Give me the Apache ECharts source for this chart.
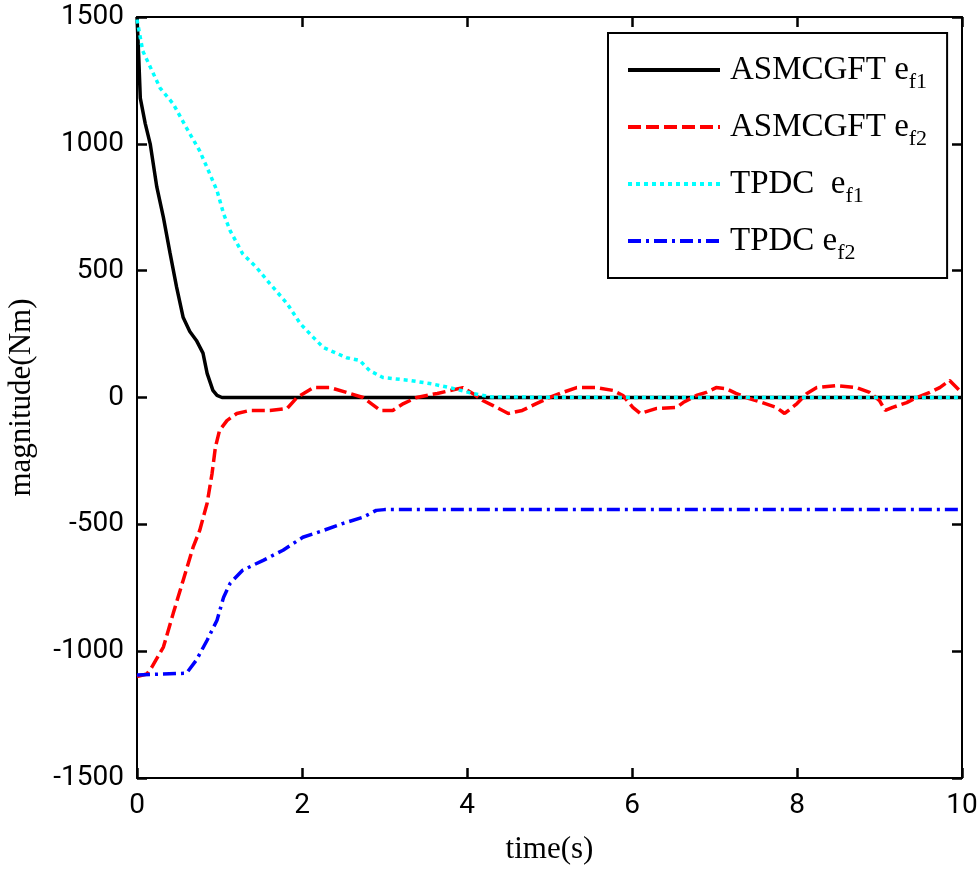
<!DOCTYPE html>
<html>
<head>
<meta charset="utf-8">
<script src="https://cdn.jsdelivr.net/npm/echarts@6/dist/echarts.min.js"></script>
<style>
html,body{margin:0;padding:0;background:#fff;}
#chart{width:980px;height:876px;}
</style>
</head>
<body>
<div id="chart"></div>
<script>
// ---- data (time s, magnitude Nm) ----
const xTicks = [0, 2, 4, 6, 8, 10];
const yTicks = [-1500, -1000, -500, 0, 500, 1000, 1500];

const asmcgftEf1 = [
  [0,1500],[0.02,1350],[0.04,1180],[0.1,1080],[0.16,1000],[0.24,830],[0.32,710],
  [0.40,570],[0.48,435],[0.56,315],[0.64,260],[0.72,225],[0.80,175],[0.85,95],
  [0.92,28],[0.97,8],[1.03,0],[2,0],[4,0],[6,0],[8,0],[10,0]
];

const asmcgftEf2 = [
  [0,-1100],[0.12,-1090],[0.18,-1063],[0.32,-984],[0.44,-850],[0.56,-720],
  [0.68,-590],[0.76,-524],[0.85,-417],[0.91,-299],[0.95,-197],[1.0,-130],
  [1.09,-91],[1.21,-63],[1.37,-51],[1.61,-51],[1.82,-43],[1.94,0],[2.14,39],
  [2.34,39],[2.54,20],[2.74,0],[2.95,-51],[3.1,-51],[3.23,-24],[3.39,0],
  [3.64,16],[3.95,39],[4.07,16],[4.19,-12],[4.31,-31],[4.5,-63],[4.67,-51],
  [4.84,-24],[5.0,0],[5.16,20],[5.33,39],[5.57,39],[5.77,28],[5.89,8],
  [6.01,-39],[6.1,-63],[6.3,-43],[6.54,-39],[6.62,-20],[6.78,8],[6.9,20],
  [7.02,39],[7.14,35],[7.26,16],[7.42,-4],[7.58,-20],[7.75,-39],[7.85,-63],
  [8.0,-24],[8.12,16],[8.24,39],[8.48,47],[8.72,39],[8.88,20],[9.0,-12],
  [9.07,-51],[9.16,-39],[9.33,-20],[9.45,0],[9.61,20],[9.73,39],[9.85,67],
  [9.97,28],[10,20]
];

const tpdcEf1 = [
  [0,1490],[0.07,1366],[0.28,1220],[0.44,1157],[0.6,1063],[0.76,972],
  [0.85,906],[0.97,815],[1.05,724],[1.13,657],[1.28,567],[1.45,512],
  [1.61,449],[1.82,370],[1.98,291],[2.14,236],[2.26,197],[2.54,157],
  [2.70,146],[2.82,106],[2.98,79],[3.31,67],[3.55,55],[3.79,39],[4.07,16],
  [4.3,2],[6,0],[8,0],[10,0]
];

const tpdcEf2 = [
  [0,-1094],[0.6,-1087],[0.72,-1035],[0.85,-957],[0.97,-878],[1.05,-787],
  [1.13,-732],[1.28,-681],[1.53,-642],[1.77,-602],[2.01,-551],[2.26,-524],
  [2.5,-496],[2.74,-472],[2.9,-445],[3.0,-442],[4,-442],[6,-442],[8,-442],[10,-442]
];

const seriesNames = ['ASMCGFT ef1', 'ASMCGFT ef2', 'TPDC  ef1', 'TPDC ef2'];
const legendLabels = {
  'ASMCGFT ef1': '{m|ASMCGFT e}{s|f1}',
  'ASMCGFT ef2': '{m|ASMCGFT e}{s|f2}',
  'TPDC  ef1': '{m|TPDC  e}{s|f1}',
  'TPDC ef2': '{m|TPDC e}{s|f2}'
};

const serif = '"Liberation Serif","Times New Roman",serif';
const tickFont = 'Roboto,"Noto Sans",sans-serif';

const chart = echarts.init(document.getElementById('chart'));

function mkLine() { return {show: true, onZero: false, lineStyle: {color: '#000', width: 2}}; }
function mkTick() { return {show: true, inside: true, length: 10, lineStyle: {color: '#000', width: 2.5}}; }

chart.setOption({
  animation: false,
  grid: {left: 137, right: 18, top: 17, bottom: 98, outerBoundsMode: 'none'},
  legend: {
    data: seriesNames,
    orient: 'vertical',
    left: 608,
    top: 33,
    itemWidth: 92,
    itemHeight: 14,
    itemGap: 11,
    padding: [14, 20, 14, 18],
    borderColor: '#000',
    borderWidth: 2,
    backgroundColor: '#fff',
    itemStyle: {opacity: 0},
    lineStyle: {width: 4},
    formatter: function (name) { return legendLabels[name]; },
    textStyle: {
      color: '#000',
      padding: [0, 0, 0, 5],
      rich: {
        m: {fontFamily: serif, fontSize: 33, lineHeight: 32, color: '#000'},
        s: {fontFamily: serif, fontSize: 22, lineHeight: 22, color: '#000', padding: [24, 0, 0, 0]}
      }
    }
  },
  xAxis: [{
    type: 'value', min: 0, max: 10, interval: 2,
    name: 'time(s)', nameLocation: 'middle', nameGap: 56,
    nameTextStyle: {fontFamily: serif, fontSize: 31, color: '#000'},
    axisLine: mkLine(), axisTick: mkTick(),
    axisLabel: {fontFamily: tickFont, fontSize: 28, color: '#000', margin: 14,
      formatter: function (v) { return String(v); }},
    splitLine: {show: false}
  }, {
    type: 'value', min: 0, max: 10, interval: 2, position: 'top',
    axisLine: mkLine(), axisTick: mkTick(), axisLabel: {show: false}, splitLine: {show: false}
  }],
  yAxis: [{
    type: 'value', min: -1500, max: 1500, interval: 500,
    name: 'magnitude(Nm)', nameLocation: 'middle', nameGap: 100, nameRotate: 90,
    nameTextStyle: {fontFamily: serif, fontSize: 31, color: '#000'},
    axisLine: mkLine(), axisTick: mkTick(),
    axisLabel: {fontFamily: tickFont, fontSize: 28, color: '#000', margin: 13,
      formatter: function (v) { return String(v); }},
    splitLine: {show: false}
  }, {
    type: 'value', min: -1500, max: 1500, interval: 500, position: 'right',
    axisLine: mkLine(), axisTick: mkTick(), axisLabel: {show: false}, splitLine: {show: false}
  }],
  series: [
    {name: seriesNames[0], type: 'line', data: asmcgftEf1, showSymbol: false, symbol: 'none',
      lineStyle: {color: '#000', width: 3.5, type: 'solid'}, itemStyle: {color: '#000'}},
    {name: seriesNames[1], type: 'line', data: asmcgftEf2, showSymbol: false, symbol: 'none',
      lineStyle: {color: '#ff0000', width: 3.5, type: [13, 5]}, itemStyle: {color: '#ff0000'}},
    {name: seriesNames[2], type: 'line', data: tpdcEf1, showSymbol: false, symbol: 'none',
      lineStyle: {color: '#00ffff', width: 3.5, type: [4, 4]}, itemStyle: {color: '#00ffff'}},
    {name: seriesNames[3], type: 'line', data: tpdcEf2, showSymbol: false, symbol: 'none',
      lineStyle: {color: '#0000ff', width: 3.5, type: [13, 5, 3, 5]}, itemStyle: {color: '#0000ff'}}
  ]
});
</script>
</body>
</html>
